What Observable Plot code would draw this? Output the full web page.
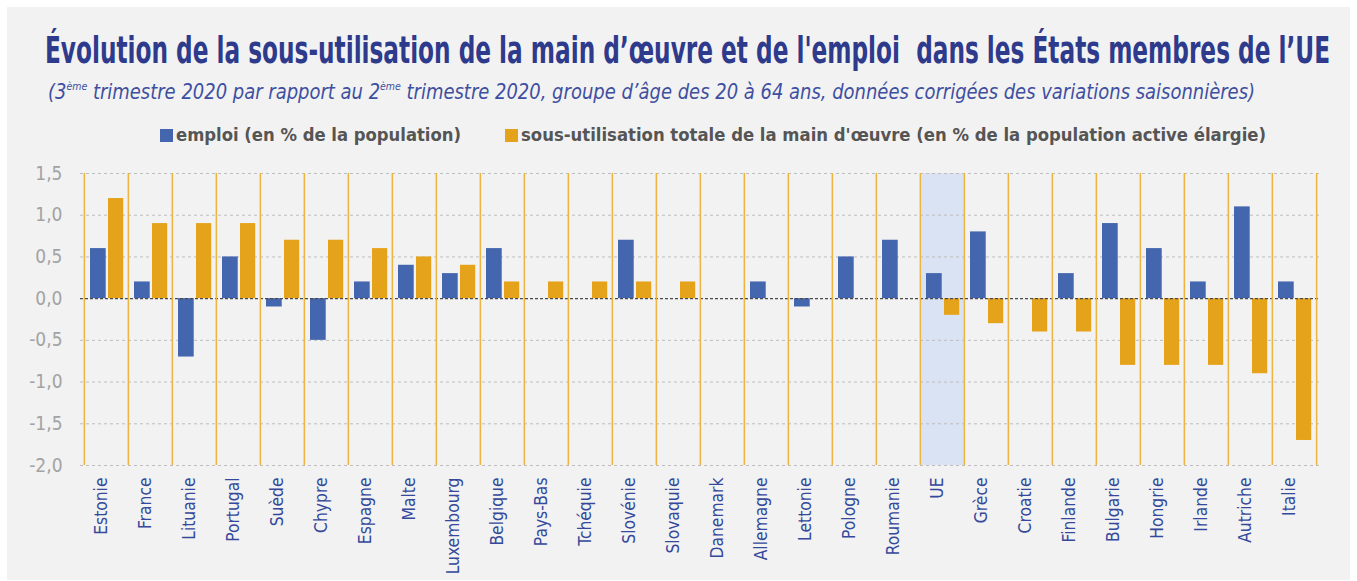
<!DOCTYPE html>
<html><head><meta charset="utf-8">
<script src="https://cdn.jsdelivr.net/npm/d3@7"></script>
<script src="https://cdn.jsdelivr.net/npm/@observablehq/plot@0.6"></script>
<style>
html,body{margin:0;padding:0;background:#fff;}
body{width:1357px;height:581px;position:relative;overflow:hidden;font-family:"Liberation Sans Narrow","DejaVu Sans Condensed","Open Sans",sans-serif;}
#panel{position:absolute;left:7px;top:7px;width:1343px;height:573px;background:#f2f2f2;}
.t{position:absolute;white-space:nowrap;transform-origin:0 50%;}
#title{left:45px;top:29px;font-size:38px;line-height:42px;font-weight:bold;color:#2e3a8c;font-stretch:condensed;}
#subtitle{left:48px;top:80px;font-size:21px;line-height:24px;font-style:italic;color:#3e4fa0;}
#subtitle sup{font-size:11px;vertical-align:top;line-height:10px;position:relative;top:2px;}
.sw{position:absolute;width:13px;height:13px;}
.lg{top:124px;font-size:18px;line-height:22px;color:#555;font-weight:bold;}
#chart{position:absolute;left:0;top:150px;}
</style>
</head><body>
<div id="panel"></div>
<div class="t" id="title">Évolution de la sous-utilisation de la main d’œuvre et de l'emploi&nbsp; dans les États membres de l’UE</div>
<div class="t" id="subtitle">(3<sup>ème</sup> trimestre 2020 par rapport au 2<sup>ème</sup> trimestre 2020, groupe d’âge des 20 à 64 ans, données corrigées des variations saisonnières)</div>
<div class="sw" style="left:160px;top:129px;background:#4466ae"></div>
<div class="t lg" id="lg1" style="left:176px">emploi (en % de la population)</div>
<div class="sw" style="left:505px;top:129px;background:#e5a31c"></div>
<div class="t lg" id="lg2" style="left:521px">sous-utilisation totale de la main d'œuvre (en % de la population active élargie)</div>
<div id="chart"></div>
<script>
const countries = ["Estonie","France","Lituanie","Portugal","Suède","Chypre","Espagne","Malte","Luxembourg","Belgique","Pays-Bas","Tchéquie","Slovénie","Slovaquie","Danemark","Allemagne","Lettonie","Pologne","Roumanie","UE","Grèce","Croatie","Finlande","Bulgarie","Hongrie","Irlande","Autriche","Italie"];
const emploi = [0.6,0.2,-0.7,0.5,-0.1,-0.5,0.2,0.4,0.3,0.6,0,0,0.7,0,0,0.2,-0.1,0.5,0.7,0.3,0.8,0,0.3,0.9,0.6,0.2,1.1,0.2];
const sousUtilisation = [1.2,0.9,0.9,0.9,0.7,0.7,0.6,0.5,0.4,0.2,0.2,0.2,0.2,0.2,0,0,0,0,0,-0.2,-0.3,-0.4,-0.4,-0.8,-0.8,-0.8,-0.9,-1.7];
const yTicks = [-2,-1.5,-1,-0.5,0,0.5,1,1.5];
const highlight = "UE";

const rows = countries.map((c,i)=>({pays:c, emploi:emploi[i], sous:sousUtilisation[i]}));
const W = 1357, ML = 80, MR = 37;
const bw = (W-ML-MR)/countries.length;
const font = '"Liberation Sans Narrow","DejaVu Sans Condensed","Open Sans",sans-serif';

const plot = Plot.plot({
  width: W, height: 431,
  marginLeft: ML, marginRight: MR, marginTop: 23, marginBottom: 116,
  style: {background: "transparent", fontFamily: font, overflow: "visible"},
  x: {domain: countries, padding: 0, axis: null},
  y: {domain: [-2, 1.5], axis: null},
  marks: [
    Plot.barY([highlight], {x: d => d, y1: -2, y2: 1.5, fill: "#dae3f3"}),
    Plot.ruleY(yTicks.filter(t => t !== 0), {stroke: "#bdbdbd", strokeDasharray: "3,3"}),
    Plot.barY(rows, {x: "pays", y: "emploi", fill: "#4466ae", insetLeft: 6, insetRight: bw - 22}),
    Plot.barY(rows, {x: "pays", y: "sous", fill: "#e5a31c", insetLeft: 24, insetRight: bw - 39.5}),
    Plot.ruleY([0], {stroke: "#4a4a4a", strokeDasharray: "3,2", strokeWidth: 1.2}),
    Plot.ruleX(countries, {x: d => d, dx: -bw/2, stroke: "#edb540", strokeWidth: 1.5}),
    Plot.ruleX([countries[countries.length-1]], {x: d => d, dx: bw/2, stroke: "#edb540", strokeWidth: 1.5}),
    Plot.axisY({ticks: yTicks, tickFormat: d => d.toFixed(1).replace(".", ","), tickSize: 0, tickPadding: 18, fontSize: 19, color: "#a3a3a3", label: null}),
    Plot.text(countries, {x: d => d, text: d => d, frameAnchor: "bottom", rotate: -90, textAnchor: "end", dy: 12, fill: "#34499b", fontSize: 17.3, fontWeight: d => d === highlight ? "bold" : "normal"})
  ]
});
document.getElementById("chart").appendChild(plot);

function fit(id, target) {
  const el = document.getElementById(id);
  const w = el.getBoundingClientRect().width;
  el.style.transform = `scaleX(${target / w})`;
}
fit("title", 1285);
fit("subtitle", 1207);
fit("lg1", 285);
fit("lg2", 745);
</script>
</body></html>
